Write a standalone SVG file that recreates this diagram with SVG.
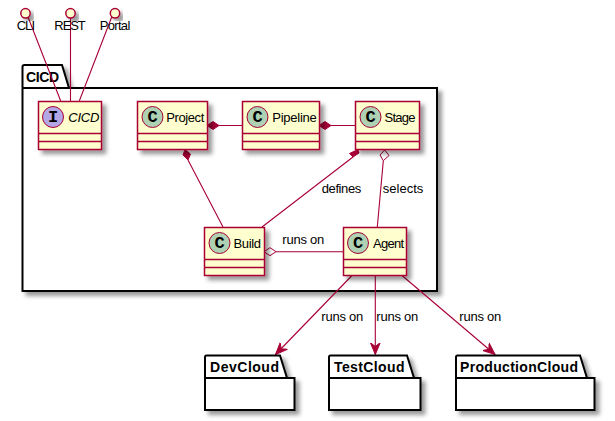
<svg xmlns="http://www.w3.org/2000/svg" width="615" height="421" viewBox="0 0 615 421">
<style>
text{font-family:"Liberation Sans",Arial,sans-serif;fill:#000}
.lbl{font-size:13px}
.pk{font-size:14px;font-weight:bold}
.box{fill:#FEFECE;stroke:#A80036;stroke-width:1.5}
.ln{stroke:#A80036;stroke-width:1.5;fill:none}
.con{stroke:#A80036;stroke-width:1.1;fill:none}
.pkg{fill:#fff;stroke:#000;stroke-width:2}
.spot{stroke:#A80036;stroke-width:1}
.gl{font-size:17px;font-weight:bold;font-family:"Liberation Mono",monospace;text-anchor:middle}
</style>
<defs>
<filter id="sh" x="-20%" y="-20%" width="150%" height="150%"><feDropShadow dx="4" dy="4" stdDeviation="2" flood-color="#000" flood-opacity="0.4"/></filter>
<marker id="arr" markerUnits="userSpaceOnUse" markerWidth="14" markerHeight="12" refX="12" refY="5" orient="auto" viewBox="0 0 14 10"><path d="M0,0 L12,5 L0,10 L4,5 Z" fill="#A80036" stroke="#A80036"/></marker>
</defs>
<g id="pkg-CICD" filter="url(#sh)"><path class="pkg" d="M22.500,88 V67 Q22.500,65 24.500,65 H62 L69,88 H437 V291 H22.500 Z"/><path class="pkg" d="M22.500,88 H69"/></g>
<text class="pk" x="26" y="82" textLength="33">CICD</text>
<g id="connectors">
<path class="con" d="M28,17 L60.700,101 M70.500,18 V101 M111.700,17 L79.300,101"/>
<path class="con" d="M219,125.500 H242 M331,125.500 H355 M188,160 L223,227"/>
<path class="con" d="M353,157 L262,227 M383.300,160.700 L377.300,227 M276,251.700 H343.500"/>
<path class="con" d="M352,275.500 L275.500,354.500" marker-end="url(#arr)"/>
<path class="con" d="M375.300,275.500 V354.500" marker-end="url(#arr)"/>
<path class="con" d="M402,275.500 L495,354.500" marker-end="url(#arr)"/>
<path d="M207,125.500 L213,121.500 L219,125.500 L213,129.500 Z" fill="#A80036" stroke="#A80036"/>
<path d="M319,125.500 L325,121.500 L331,125.500 L325,129.500 Z" fill="#A80036" stroke="#A80036"/>
<path d="M185,149.500 L190.500,154 L188,160 L183,155 Z" fill="#A80036" stroke="#A80036"/>
<path d="M358,149.500 L359,153 L353,157 L349.500,153.500 Z" fill="#A80036" stroke="#A80036"/>
<path d="M384.700,150 L389,155.500 L383.300,160.700 L380,155 Z" fill="#fff" stroke="#A80036"/>
<path d="M264,251.700 L270,247.700 L276,251.700 L270,255.700 Z" fill="#fff" stroke="#A80036"/>
</g>
<g id="i-CLI"><circle class="box" cx="25.500" cy="13.300" r="4.700" filter="url(#sh)"/><text class="lbl" x="16.700" y="30" textLength="18.300">CLI</text></g>
<g id="i-REST"><circle class="box" cx="70.500" cy="13.300" r="4.700" filter="url(#sh)"/><text class="lbl" x="54.300" y="30" textLength="31.500">REST</text></g>
<g id="i-Portal"><circle class="box" cx="115" cy="13.300" r="4.700" filter="url(#sh)"/><text class="lbl" x="99.700" y="30" textLength="30.600">Portal</text></g>
<g id="n-CICD"><rect class="box" x="38.500" y="101.500" width="63" height="48" filter="url(#sh)"/><path class="ln" d="M38.500,133.500 H101.500 M38.500,141.500 H101.500"/><circle class="spot" cx="53" cy="117" r="10.500" fill="#B4A7E5"/><text class="gl" x="53" y="122">I</text><text class="lbl" x="68.300" y="122" font-style="italic" textLength="31">CICD</text></g>
<g id="n-Project"><rect class="box" x="137.500" y="101.500" width="70" height="48" filter="url(#sh)"/><path class="ln" d="M137.500,133.500 H207.500 M137.500,141.500 H207.500"/><circle class="spot" cx="152.500" cy="117" r="10.500" fill="#ADD1B2"/><text class="gl" x="152.500" y="122">C</text><text class="lbl" x="166.300" y="122" textLength="38">Project</text></g>
<g id="n-Pipeline"><rect class="box" x="242.500" y="101.500" width="77" height="48" filter="url(#sh)"/><path class="ln" d="M242.500,133.500 H319.500 M242.500,141.500 H319.500"/><circle class="spot" cx="257.500" cy="117" r="10.500" fill="#ADD1B2"/><text class="gl" x="257.500" y="122">C</text><text class="lbl" x="272.300" y="122" textLength="44.500">Pipeline</text></g>
<g id="n-Stage"><rect class="box" x="355.500" y="101.500" width="64" height="48" filter="url(#sh)"/><path class="ln" d="M355.500,133.500 H419.500 M355.500,141.500 H419.500"/><circle class="spot" cx="370.500" cy="117" r="10.500" fill="#ADD1B2"/><text class="gl" x="370.500" y="122">C</text><text class="lbl" x="384.500" y="122" textLength="31">Stage</text></g>
<g id="n-Build"><rect class="box" x="204.500" y="227.500" width="60" height="48" filter="url(#sh)"/><path class="ln" d="M204.500,259.500 H264.500 M204.500,267.500 H264.500"/><circle class="spot" cx="219.500" cy="243" r="10.500" fill="#ADD1B2"/><text class="gl" x="219.500" y="248">C</text><text class="lbl" x="233.500" y="248" textLength="27.500">Build</text></g>
<g id="n-Agent"><rect class="box" x="343.500" y="227.500" width="63" height="48" filter="url(#sh)"/><path class="ln" d="M343.500,259.500 H406.500 M343.500,267.500 H406.500"/><circle class="spot" cx="358" cy="243" r="10.500" fill="#ADD1B2"/><text class="gl" x="358" y="248">C</text><text class="lbl" x="373" y="248" textLength="31">Agent</text></g>
<g id="p-DevCloud" filter="url(#sh)"><path class="pkg" d="M205,378 V357 Q205,355.500 206.500,355.500 H280 L287,378 H294.500 V410 H205 Z"/><path class="pkg" d="M205,378 H287"/></g>
<text class="pk" x="210" y="372" textLength="69">DevCloud</text>
<g id="p-TestCloud" filter="url(#sh)"><path class="pkg" d="M329,378 V357 Q329,355.500 330.500,355.500 H407 L414,378 H420.500 V410 H329 Z"/><path class="pkg" d="M329,378 H414"/></g>
<text class="pk" x="334" y="372" textLength="70.500">TestCloud</text>
<g id="p-ProductionCloud" filter="url(#sh)"><path class="pkg" d="M456,378 V357 Q456,355.500 457.500,355.500 H580 L587,378 H594.500 V410 H456 Z"/><path class="pkg" d="M456,378 H587"/></g>
<text class="pk" x="460" y="372" textLength="118">ProductionCloud</text>
<g id="labels">
<text class="lbl" x="321.700" y="193" textLength="39.600">defines</text>
<text class="lbl" x="382.700" y="193" textLength="40.600">selects</text>
<text class="lbl" x="282.300" y="244" textLength="42">runs on</text>
<text class="lbl" x="321.300" y="321" textLength="42">runs on</text>
<text class="lbl" x="376.300" y="321" textLength="42">runs on</text>
<text class="lbl" x="459.300" y="321" textLength="42">runs on</text>
</g>
</svg>
